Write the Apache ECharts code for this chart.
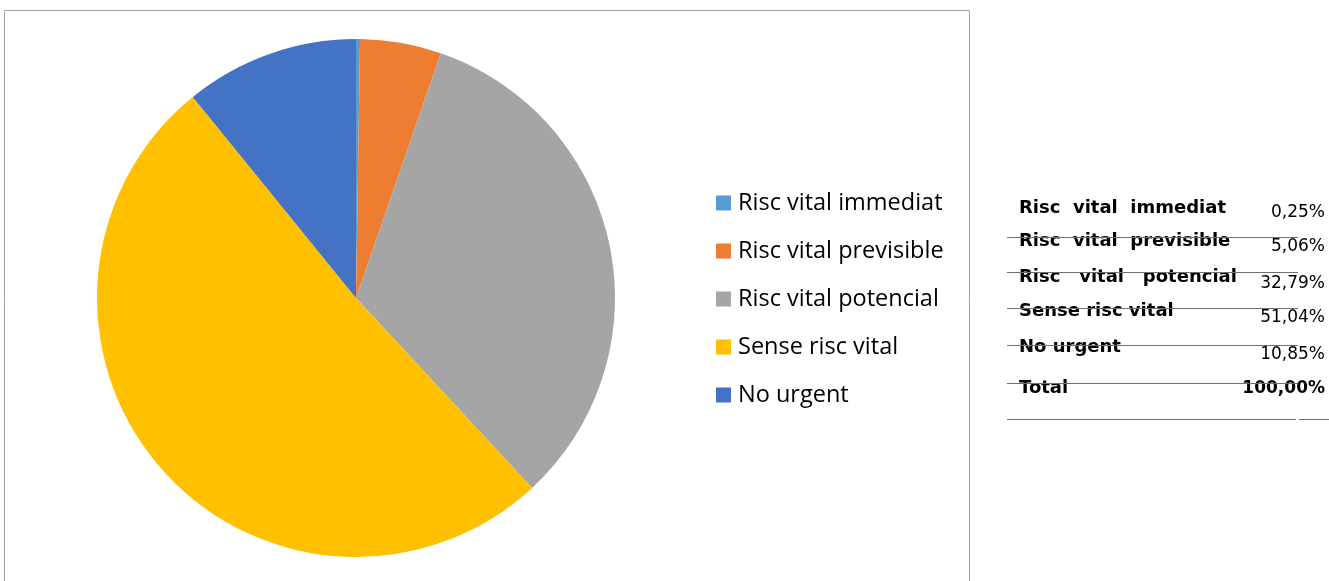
<!DOCTYPE html>
<html><head><meta charset="utf-8">
<script src="https://cdn.jsdelivr.net/npm/echarts@6/dist/echarts.min.js"></script>
<style>html,body{margin:0;padding:0;background:#fff}#c{width:1329px;height:581px}</style>
</head><body><div id="c"></div>
<script>
const categories = ['Risc vital immediat','Risc vital previsible','Risc vital potencial','Sense risc vital','No urgent'];
const values = [0.25, 5.06, 32.79, 51.04, 10.85];
const colors = ['#5B9BD5','#ED7D31','#A5A5A5','#FFC000','#4472C4'];
const tableLabels = ['Risc  vital  immediat','Risc  vital  previsible','Risc   vital   potencial','Sense risc vital','No urgent'];
const totalLabel = 'Total';
const totalValue = 100.00;

const fmt = v => v.toFixed(2).replace('.', ',') + '%';
const chart = echarts.init(document.getElementById('c'), null, {renderer:'canvas'});
const rowLabelY = [210, 243, 279, 313, 349];
const rowValueY = [213, 247, 284, 318, 355];
const lineY = [237, 272, 308, 345, 383];
const g = [];
g.push({type:'rect', shape:{x:4.5, y:10.5, width:965, height:620}, style:{fill:'none', stroke:'#a0a0a0', lineWidth:1}, z:0});
tableLabels.forEach((t,i)=>{
  g.push({type:'text', left:1019, top:rowLabelY[i]-11, style:{text:t, font:'bold 18px "DejaVu Sans"', fill:'#000'}});
  g.push({type:'text', right:4, top:rowValueY[i]-9, style:{text:fmt(values[i]), font:'17px "DejaVu Sans"', fill:'#000', align:'right'}});
});
g.push({type:'text', left:1019, top:379, style:{text:totalLabel, font:'bold 18px "DejaVu Sans"', fill:'#000'}});
g.push({type:'text', right:4, top:380, style:{text:fmt(totalValue), font:'bold 17px "DejaVu Sans"', fill:'#000', align:'right'}});
lineY.forEach(y=>{
  g.push({type:'line', shape:{x1:1007, y1:y+0.5, x2:1298, y2:y+0.5}, style:{stroke:'#707070', lineWidth:1}});
});
g.push({type:'line', shape:{x1:1007, y1:419.5, x2:1296, y2:419.5}, style:{stroke:'#707070', lineWidth:1}});
g.push({type:'line', shape:{x1:1299, y1:419.5, x2:1329, y2:419.5}, style:{stroke:'#707070', lineWidth:1}});

chart.setOption({
  animation:false,
  color: colors,
  legend:{
    orient:'vertical', left:716, top:187, padding:0, itemWidth:15, itemHeight:15, itemGap:16,
    icon:'rect',
    textStyle:{fontSize:23.5, color:'#000', fontFamily:'"Open Sans", sans-serif', padding:[0,0,0,2], lineHeight:32},
    data: categories
  },
  graphic: g,
  series:[{
    type:'pie', center:[356,298], radius:259, startAngle:90, clockwise:true,
    label:{show:false}, labelLine:{show:false}, silent:true,
    itemStyle:{borderWidth:0},
    data: categories.map((c,i)=>({name:c, value:values[i]}))
  }]
});
</script></body></html>
